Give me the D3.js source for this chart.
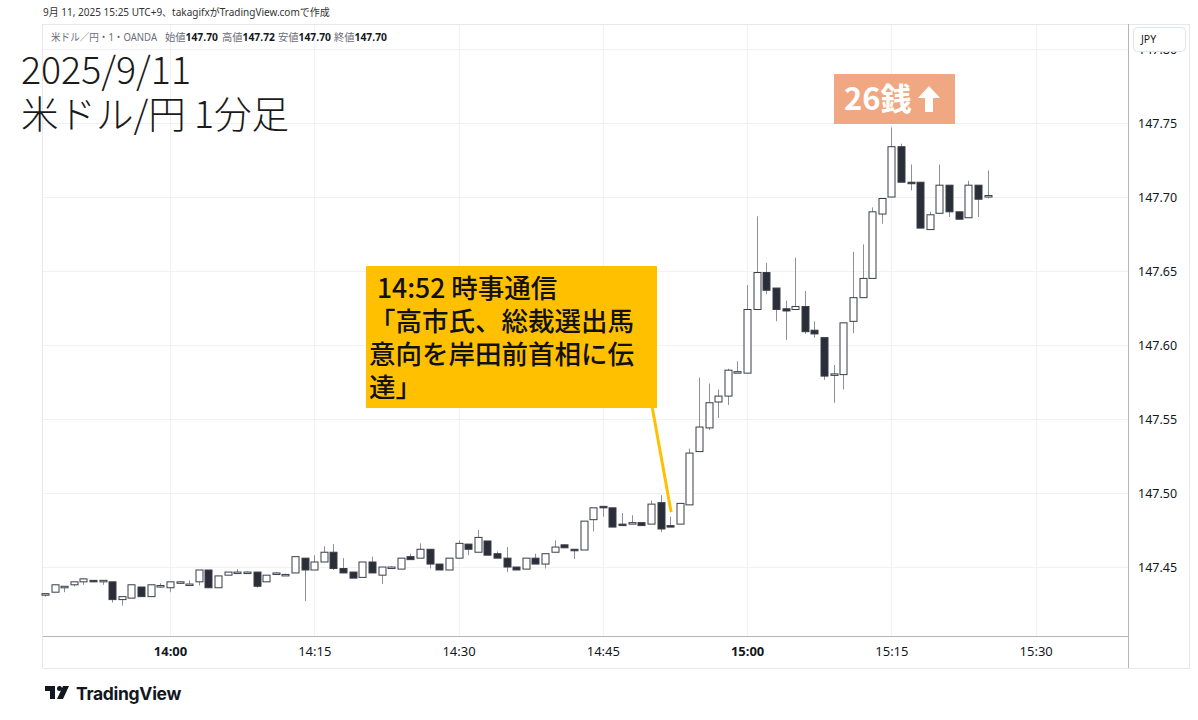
<!DOCTYPE html>
<html><head><meta charset="utf-8">
<script src="https://cdn.jsdelivr.net/npm/d3@7"></script>
<style>body{margin:0;background:#fff;}svg{display:block;}</style>
</head><body><svg id="c" width="1198" height="720"></svg>
<script>
// ---- data (USD/JPY 1-minute, 2025/9/11) ----
const times = ["13:47","13:48","13:49","13:50","13:51","13:52","13:53","13:54","13:55","13:56","13:57","13:58","13:59",
"14:00","14:01","14:02","14:03","14:04","14:05","14:06","14:07","14:08","14:09","14:10","14:11","14:12","14:13","14:14",
"14:15","14:16","14:17","14:18","14:19","14:20","14:21","14:22","14:23","14:24","14:25","14:26","14:27","14:28","14:29",
"14:30","14:31","14:32","14:33","14:34","14:35","14:36","14:37","14:38","14:39","14:40","14:41","14:42","14:43","14:44",
"14:45","14:46","14:47","14:48","14:49","14:50","14:51","14:52","14:53","14:54","14:55","14:56","14:57","14:58","14:59",
"15:00","15:01","15:02","15:03","15:04","15:05","15:06","15:07","15:08","15:09","15:10","15:11","15:12","15:13","15:14",
"15:15","15:16","15:17","15:18","15:19","15:20","15:21","15:22","15:23","15:24","15:25"];
const opens = [147.431,147.433,147.437,147.438,147.440,147.441,147.440,147.440,147.428,147.429,147.4365,147.430,147.437,
147.436,147.440,147.4385,147.440,147.448,147.436,147.4445,147.4466,147.4466,147.4466,147.440,147.446,147.445,147.446,147.456,
147.448,147.4534,147.460,147.449,147.4466,147.443,147.4534,147.4445,147.450,147.4486,147.457,147.456,147.462,147.452,147.448,
147.456,147.4655,147.460,147.4676,147.459,147.456,147.450,147.4486,147.456,147.452,147.460,147.465,147.462,147.4615,147.482,
147.491,147.490,147.479,147.479,147.480,147.479,147.4935,147.478,147.479,147.492,147.528,147.544,147.5615,147.5655,147.582,
147.581,147.624,147.649,147.6385,147.6245,147.624,147.626,147.610,147.605,147.580,147.580,147.616,147.632,147.645,147.6885,
147.700,147.734,147.710,147.710,147.678,147.689,147.708,147.690,147.686,147.708,147.700];
const highs = [147.432,147.438,147.437,147.440,147.4425,147.441,147.441,147.440,147.430,147.438,147.4365,147.438,147.439,
147.440,147.4405,147.441,147.448,147.448,147.444,147.4466,147.4486,147.447,147.4466,147.4445,147.4465,147.4455,147.457,147.456,
147.458,147.464,147.4655,147.456,147.4466,147.4534,147.457,147.450,147.4505,147.456,147.459,147.466,147.462,147.452,147.456,
147.468,147.4655,147.475,147.4676,147.4605,147.4635,147.450,147.456,147.459,147.459,147.468,147.465,147.462,147.481,147.490,
147.491,147.490,147.4865,147.485,147.480,147.495,147.4985,147.484,147.493,147.530,147.578,147.574,147.570,147.584,147.589,
147.6405,147.687,147.6555,147.6385,147.630,147.659,147.6365,147.616,147.605,147.5865,147.615,147.663,147.668,147.693,147.699,
147.747,147.736,147.722,147.710,147.690,147.722,147.708,147.690,147.711,147.708,147.718];
const lows = [147.430,147.433,147.433,147.437,147.438,147.440,147.438,147.426,147.424,147.429,147.430,147.430,147.436,
147.433,147.4395,147.4385,147.4375,147.436,147.436,147.4445,147.4466,147.446,147.436,147.440,147.4455,147.4445,147.446,147.427,
147.448,147.4534,147.448,147.446,147.4425,147.443,147.446,147.4385,147.4495,147.4486,147.455,147.456,147.449,147.448,147.448,
147.456,147.458,147.460,147.458,147.456,147.4466,147.448,147.4486,147.452,147.449,147.460,147.463,147.4554,147.4615,147.474,
147.484,147.477,147.478,147.479,147.478,147.479,147.4737,147.477,147.479,147.492,147.528,147.5426,147.5507,147.5595,147.582,
147.581,147.624,147.6345,147.616,147.6035,147.624,147.6075,147.605,147.5765,147.561,147.570,147.608,147.632,147.645,147.682,
147.700,147.710,147.7045,147.679,147.678,147.689,147.6865,147.685,147.686,147.6865,147.699];
const closes = [147.432,147.438,147.437,147.440,147.442,147.440,147.441,147.428,147.430,147.438,147.430,147.438,147.4375,
147.440,147.440,147.4385,147.448,147.436,147.444,147.4466,147.4466,147.4466,147.437,147.4445,147.446,147.445,147.457,147.448,
147.4534,147.460,147.449,147.446,147.4425,147.4534,147.446,147.450,147.450,147.456,147.455,147.462,147.452,147.448,147.456,
147.466,147.462,147.470,147.458,147.456,147.450,147.448,147.456,147.452,147.459,147.4635,147.463,147.461,147.481,147.490,
147.490,147.477,147.478,147.480,147.478,147.4925,147.4757,147.477,147.493,147.527,147.5446,147.561,147.5655,147.583,147.582,
147.624,147.649,147.637,147.624,147.623,147.626,147.609,147.6075,147.579,147.5805,147.615,147.632,147.645,147.690,147.699,
147.734,147.710,147.709,147.679,147.688,147.708,147.690,147.685,147.708,147.6985,147.701];
const priceTicks = [147.45,147.50,147.55,147.60,147.65,147.70,147.75,147.80];
const timeTicks = ["14:00","14:15","14:30","14:45","15:00","15:15","15:30"];
const domainTimes = ["13:46:48","15:39:36"];
const priceDomain = [147.4034,147.8169];

const headerLine = "9月 11, 2025 15:25 UTC+9、takagifxがTradingView.comで作成";
const legendSymbol = "米ドル／円・1・OANDA";
const legendLabels = ["始値","高値","安値","終値"];
const legendValues = ["147.70","147.72","147.70","147.70"];
const titleLines = ["2025/9/11","米ドル/円 1分足"];
const noteLines = ["14:52 時事通信","「高市氏、総裁選出馬","意向を岸田前首相に伝","達」"];
const noteTime = "14:52";
const badgeText = "26銭";

// ---- drawing ----
const svg = d3.select("#c");
const L = 43, R = 1128, T = 24, B = 636;
const parseT = d3.timeParse("%H:%M");
const parseS = d3.timeParse("%H:%M:%S");
const x = d3.scaleTime().domain(domainTimes.map(parseS)).range([L, R]);
const y = d3.scaleLinear().domain(priceDomain).range([B, T]);
const data = times.map((t,i)=>({t:parseT(t),o:opens[i],h:highs[i],l:lows[i],c:closes[i]}));

const font = "'Noto Sans', 'Noto Sans CJK JP', sans-serif";
const jp = "'Noto Sans CJK JP', sans-serif";

svg.append("rect").attr("x",0).attr("y",0).attr("width",1198).attr("height",720).attr("fill","#fff");

const g = svg.append("g");
g.selectAll(".hg").data(priceTicks).join("line")
  .attr("x1",L).attr("x2",R).attr("y1",d=>Math.round(y(d))+0.5).attr("y2",d=>Math.round(y(d))+0.5)
  .attr("stroke","#f0f1f4").attr("stroke-width",1);
g.selectAll(".vg").data(timeTicks).join("line")
  .attr("y1",T).attr("y2",B).attr("x1",d=>Math.round(x(parseT(d)))+0.5).attr("x2",d=>Math.round(x(parseT(d)))+0.5)
  .attr("stroke","#f0f1f4").attr("stroke-width",1);

// borders
svg.append("line").attr("x1",L-0.5).attr("x2",1190).attr("y1",T+0.5).attr("y2",T+0.5).attr("stroke","#e6e8ee");
svg.append("line").attr("x1",L-0.5).attr("x2",L-0.5).attr("y1",T).attr("y2",668).attr("stroke","#e6e8ee");
svg.append("line").attr("x1",L).attr("x2",R).attr("y1",B+0.5).attr("y2",B+0.5).attr("stroke","#b2b5be");
svg.append("line").attr("x1",R+0.5).attr("x2",R+0.5).attr("y1",T).attr("y2",668).attr("stroke","#b2b5be");
svg.append("line").attr("x1",L).attr("x2",1190).attr("y1",668.5).attr("y2",668.5).attr("stroke","#e6e8ee");
svg.append("line").attr("x1",1189.5).attr("x2",1189.5).attr("y1",T).attr("y2",668).attr("stroke","#e6e8ee");

// candles
const bw = 7;
const cg = svg.append("g");
cg.selectAll(".wick").data(data).join("line")
  .attr("x1",d=>Math.round(x(d.t))+0.5).attr("x2",d=>Math.round(x(d.t))+0.5)
  .attr("y1",d=>y(d.h)).attr("y2",d=>y(d.l)).attr("stroke","#8e9099").attr("stroke-width",1);
cg.selectAll(".body").data(data).join("rect")
  .attr("x",d=>Math.round(x(d.t))-bw/2+0.5).attr("width",bw)
  .attr("y",d=>y(Math.max(d.o,d.c)))
  .attr("height",d=>Math.max(1.5,Math.abs(y(d.o)-y(d.c))))
  .attr("fill",d=>d.c>=d.o?"#ffffff":"#2a2e39")
  .attr("stroke","#3a3d47").attr("stroke-width",1);

// price axis
const ya = svg.append("g").attr("transform",`translate(${R},0)`);
ya.call(d3.axisRight(y).tickValues(priceTicks).tickFormat(d3.format(".2f")).tickSize(0).tickPadding(10));
ya.select(".domain").remove();
ya.selectAll("text").attr("font-family",font).attr("font-size",12.5).attr("fill","#131722");

// time axis
const xa = svg.append("g").attr("transform",`translate(0,${B})`);
xa.call(d3.axisBottom(x).tickValues(timeTicks.map(parseT)).tickFormat(d3.timeFormat("%H:%M")).tickSize(0).tickPadding(11));
xa.select(".domain").remove();
xa.selectAll("text").attr("font-family",font).attr("font-size",13).attr("fill","#131722")
  .attr("font-weight",d=>d.getMinutes()===0?700:400);

// JPY box (covers the clipped top price label)
svg.append("rect").attr("x",1133.5).attr("y",27.5).attr("width",52).attr("height",24).attr("rx",4)
  .attr("fill","#fff").attr("stroke","#e0e3eb");
svg.append("text").attr("x",1141).attr("y",43).attr("font-family",font).attr("font-size",10.5).attr("fill","#131722").text("JPY");

// header
svg.append("text").attr("x",43).attr("y",16).attr("font-family",font).attr("font-size",10).attr("fill","#333").text(headerLine);
svg.append("text").attr("x",51).attr("y",41).attr("font-family",font).attr("font-size",10.3).attr("fill","#6a6d78")
  .attr("textLength",106).attr("lengthAdjust","spacingAndGlyphs").text(legendSymbol);
const legX = [165,222,278,334];
legendLabels.forEach((lab,i)=>{
  const t = svg.append("text").attr("x",legX[i]).attr("y",41).attr("font-family",font).attr("font-size",10.3);
  t.append("tspan").attr("fill","#6a6d78").text(lab);
  t.append("tspan").attr("fill","#131722").attr("font-weight",700).text(legendValues[i]);
});

// title
titleLines.forEach((t,i)=>svg.append("text").attr("x",21).attr("y",84+i*44)
  .attr("font-family",jp).attr("font-size",37.5).attr("font-weight",300).attr("fill","#1a1a1a").text(t));

// annotation
const noteX = x(parseT(noteTime));
svg.append("line").attr("x1",652).attr("y1",406).attr("x2",noteX+1).attr("y2",y(147.487))
  .attr("stroke","#FFC000").attr("stroke-width",3);
svg.append("rect").attr("x",366).attr("y",266).attr("width",291).attr("height",142).attr("fill","#FFC000");
noteLines.forEach((t,i)=>svg.append("text").attr("x",i===0?377:369).attr("y",298+i*33)
  .attr("font-family",jp).attr("font-size",26.5).attr("font-weight",500).attr("fill","#111").text(t));

// badge
svg.append("rect").attr("x",834).attr("y",74).attr("width",121).attr("height",50).attr("fill","#F0A882");
svg.append("text").attr("x",844).attr("y",110).attr("font-family",jp).attr("font-size",31).attr("font-weight",700)
  .attr("fill","#fff").text(badgeText);
svg.append("path").attr("d","M929,86 L940,98 L933,98 L933,112 L925,112 L925,98 L918,98 Z").attr("fill","#fff");

// logo
const lg = svg.append("g").attr("transform","translate(45,686)");
lg.append("path").attr("d","M0,0 H10 V13 H5 V5 H0 Z").attr("fill","#131722");
lg.append("circle").attr("cx",14.5).attr("cy",2.5).attr("r",2.5).attr("fill","#131722");
lg.append("path").attr("d","M18,0 H24 L18,13 H12 Z").attr("fill","#131722");
svg.append("text").attr("x",76).attr("y",700).attr("font-family","Inter, 'Noto Sans', sans-serif").attr("font-size",17.5)
  .attr("font-weight",700).attr("fill","#131722").attr("letter-spacing",-0.3).text("TradingView");
</script></body></html>
